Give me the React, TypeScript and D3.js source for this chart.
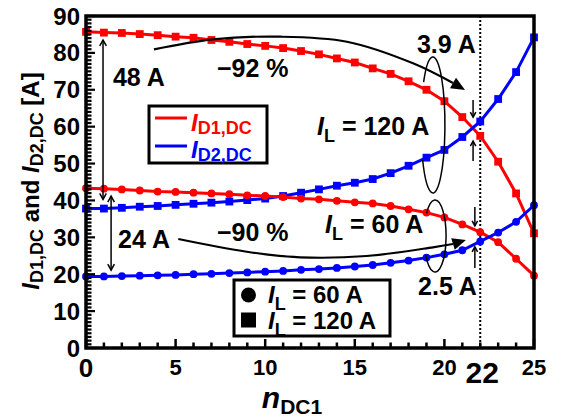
import React from 'react';
import * as d3 from 'd3';

// ---- data ----
const nDC1 = [0, 1, 2, 3, 4, 5, 6, 7, 8, 9, 10, 11, 12, 13, 14, 15, 16, 17, 18, 19, 20, 21, 22, 23, 24, 25];
const iD1_120 = [85.7, 85.5, 85.4, 85.1, 84.8, 84.4, 84.1, 83.5, 83.0, 82.4, 81.9, 81.3, 80.5, 79.6, 78.5, 77.4, 75.8, 74.3, 72.3, 70.0, 66.9, 62.6, 57.5, 50.5, 41.9, 31.1];
const iD2_120 = [37.8, 37.8, 38.0, 38.3, 38.5, 38.8, 39.1, 39.4, 39.7, 40.1, 40.5, 41.2, 42.1, 43.0, 44.0, 44.8, 45.8, 47.4, 49.4, 51.6, 53.7, 57.2, 61.4, 67.5, 74.8, 84.2];
const iD1_60 = [43.3, 43.2, 43.0, 42.7, 42.4, 42.3, 42.1, 41.9, 41.7, 41.4, 41.2, 40.9, 40.5, 40.3, 39.9, 39.5, 39.2, 38.5, 37.6, 36.7, 35.4, 33.5, 31.4, 28.7, 24.2, 19.6];
const iD2_60 = [19.4, 19.4, 19.5, 19.6, 19.7, 19.8, 20.0, 20.1, 20.3, 20.5, 20.7, 20.9, 21.2, 21.4, 21.7, 22.1, 22.5, 23.1, 23.7, 24.5, 25.4, 26.5, 28.9, 31.3, 34.2, 38.7];
const xTickLabels = [0, 5, 10, 15, 20, 25];
const yTickLabels = [0, 10, 20, 30, 40, 50, 60, 70, 80, 90];
const markedN = 22;

// annotation anchor points in data units [n, I]
const curve92 = [[3.79, 80.97], [7.09, 83.68], [10.83, 84.39], [14.56, 83.03], [18.25, 77.18], [20.48, 71.84]];
const tip92 = [21.15, 69.94];
const curve90 = [[5.15, 29.55], [8.97, 26.1], [11.94, 24.59], [15.66, 24.94], [19.36, 27.3], [20.48, 28.19]];
const tip90 = [21.2, 29.28];

const RED = '#ff0000';
const BLUE = '#0000ff';
const FONT = "'Liberation Sans', Arial, Helvetica, sans-serif";

function arrowHead(bx: number, by: number, tx: number, ty: number, hw: number) {
  const dx = tx - bx, dy = ty - by;
  const L = Math.hypot(dx, dy);
  const px = -dy / L, py = dx / L;
  return `M${tx},${ty}L${bx + px * hw},${by + py * hw}L${bx - px * hw},${by - py * hw}Z`;
}

function vHead(x: number, y: number, dir: number, s = 6) {
  // dir: +1 pointing down, -1 pointing up
  return `M${x - s * 0.55},${y - dir * s}L${x},${y}L${x + s * 0.55},${y - dir * s}`;
}

function ellipseArc(cx: number, cy: number, rx: number, ry: number, t0: number, t1: number) {
  const a0 = (t0 * Math.PI) / 180, a1 = (t1 * Math.PI) / 180;
  const x0 = cx + rx * Math.cos(a0), y0 = cy + ry * Math.sin(a0);
  const x1 = cx + rx * Math.cos(a1), y1 = cy + ry * Math.sin(a1);
  const large = t1 - t0 > 180 ? 1 : 0;
  return `M${x0},${y0}A${rx},${ry} 0 ${large} 1 ${x1},${y1}`;
}

export default function App() {
  const x = d3.scaleLinear().domain([0, 25]).range([86, 534]);
  const y = d3.scaleLinear().domain([0, 90]).range([348, 16]);
  const lineGen = d3.line<number>().x((_, i) => x(nDC1[i])).y((d) => y(d));
  const annLine = d3.line<number[]>().x((d) => x(d[0])).y((d) => y(d[1])).curve(d3.curveCatmullRom);

  const series = [
    { vals: iD1_120, color: RED, marker: 'square' },
    { vals: iD2_120, color: BLUE, marker: 'square' },
    { vals: iD1_60, color: RED, marker: 'circle' },
    { vals: iD2_60, color: BLUE, marker: 'circle' },
  ];

  const xMinor = x.ticks(25);
  const yMinor = y.ticks(90);

  const last92 = curve92[curve92.length - 1];
  const last90 = curve90[curve90.length - 1];

  const bold = { fontFamily: FONT, fontWeight: 700 } as const;

  return (
    <div style={{ position: 'absolute', left: 0, top: 0 }}>
      <svg width={561} height={417} style={{ display: 'block', background: '#fff' }}>
        {/* dotted marker at n=22 */}
        <line x1={x(markedN)} x2={x(markedN)} y1={y(90)} y2={y(0)} stroke="#000" strokeWidth={2} strokeDasharray="2,2" />

        {/* series */}
        {series.map((s, si) => (
          <g key={si}>
            <path d={lineGen(s.vals) || ''} fill="none" stroke={s.color} strokeWidth={3} />
            {s.vals.map((v, i) =>
              s.marker === 'square' ? (
                <rect key={i} x={x(nDC1[i]) - 3.9} y={y(v) - 3.9} width={7.8} height={7.8} fill={s.color} />
              ) : (
                <circle key={i} cx={x(nDC1[i])} cy={y(v)} r={3.9} fill={s.color} />
              )
            )}
          </g>
        ))}

        {/* axes frame and ticks */}
        {xMinor.map((t) => (
          <line key={'xt' + t} x1={x(t)} x2={x(t)} y1={y(0)} y2={y(0) - (t % 5 === 0 ? 9 : 5.5)} stroke="#000" strokeWidth={2.5} />
        ))}
        {yMinor.map((t) => (
          <line key={'yt' + t} x1={x(0)} x2={x(0) + (t % 10 === 0 ? 9 : 5.5)} y1={y(t)} y2={y(t)} stroke="#000" strokeWidth={2.2} />
        ))}
        <rect x={x(0)} y={y(90)} width={x(25) - x(0)} height={y(0) - y(90)} fill="none" stroke="#000" strokeWidth={3.5} />

        {/* tick labels */}
        {yTickLabels.map((t) => (
          <text key={'yl' + t} x={80} y={y(t) + 8.5} textAnchor="end" fontSize={24} {...bold}>{t}</text>
        ))}
        {xTickLabels.map((t) => (
          <text key={'xl' + t} x={x(t)} y={t === 0 ? 377 : 375} textAnchor="middle" fontSize={t === 0 ? 26 : 22} {...bold}>{t}</text>
        ))}
        <text x={x(markedN) + 2} y={383} textAnchor="middle" fontSize={30} {...bold}>{markedN}</text>

        {/* axis titles */}
        <text x={292} y={408} textAnchor="middle" {...bold}>
          <tspan fontSize={30} fontStyle="italic">n</tspan>
          <tspan fontSize={21} dy={6}>DC1</tspan>
        </text>
        <text transform="translate(39,181) rotate(-90)" textAnchor="middle" {...bold} fontSize={24}>
          <tspan fontStyle="italic">I</tspan>
          <tspan fontSize={18} dy={4}>D1,DC</tspan>
          <tspan dy={-4}> and </tspan>
          <tspan fontStyle="italic">I</tspan>
          <tspan fontSize={18} dy={4}>D2,DC</tspan>
          <tspan dy={-4}> [A]</tspan>
        </text>

        {/* double arrows */}
        <g stroke="#000" strokeWidth={1.5} fill="none">
          <line x1={x(0.95)} x2={x(0.95)} y1={y(83.5)} y2={y(40.3)} />
          <path d={vHead(x(0.95), y(83.5), -1)} />
          <path d={vHead(x(0.95), y(40.3), 1)} />
          <line x1={x(1.4)} x2={x(1.4)} y1={y(41.2)} y2={y(21.1)} />
          <path d={vHead(x(1.4), y(41.2), -1)} />
          <path d={vHead(x(1.4), y(21.1), 1)} />
          {/* small arrows at n=22 */}
          <line x1={x(21.6)} x2={x(21.6)} y1={y(67.2)} y2={y(62.6)} />
          <path d={vHead(x(21.6), y(62.6), 1, 5)} />
          <line x1={x(21.6)} x2={x(21.6)} y1={y(50.7)} y2={y(56.1)} />
          <path d={vHead(x(21.6), y(56.1), -1, 5)} />
          <line x1={x(21.7)} x2={x(21.7)} y1={y(38.2)} y2={y(33.1)} />
          <path d={vHead(x(21.7), y(33.1), 1, 5)} />
          <line x1={x(21.7)} x2={x(21.7)} y1={y(21.7)} y2={y(27.4)} />
          <path d={vHead(x(21.7), y(27.4), -1, 5)} />
          {/* loops */}
          <path d={ellipseArc(x(19.36), y(60.45), 12, 68, 219, 509)} />
          <path d={ellipseArc(x(19.48), y(30.36), 11, 36, 219, 509)} />
        </g>

        {/* curved arrows */}
        <path d={annLine(curve92) || ''} fill="none" stroke="#000" strokeWidth={2.2} />
        <path d={arrowHead(x(last92[0]), y(last92[1]), x(tip92[0]), y(tip92[1]), 6)} fill="#000" />
        <path d={annLine(curve90) || ''} fill="none" stroke="#000" strokeWidth={2.2} />
        <path d={arrowHead(x(last90[0]), y(last90[1]), x(tip90[0]), y(tip90[1]), 6)} fill="#000" />

        {/* annotation texts */}
        <g {...bold} fontSize={25}>
          <text x={x(1.5)} y={y(71.0)}>48 A</text>
          <text x={x(7.31)} y={y(73.4)}>−92 %</text>
          <text x={x(1.79)} y={y(27.2)}>24 A</text>
          <text x={x(7.31)} y={y(29.1)}>−90 %</text>
          <text x={x(18.47)} y={y(80.05)}>3.9 A</text>
          <text x={x(18.53)} y={y(14.37)}>2.5 A</text>
          <text x={x(12.89)} y={y(57.7)}>
            <tspan fontStyle="italic">I</tspan>
            <tspan fontSize={18} dy={7}>L</tspan>
            <tspan dy={-7}> = 120 A</tspan>
          </text>
          <text x={x(13.34)} y={y(31.17)}>
            <tspan fontStyle="italic">I</tspan>
            <tspan fontSize={18} dy={7}>L</tspan>
            <tspan dy={-7}> = 60 A</tspan>
          </text>
        </g>

        {/* legend: currents */}
        <rect x={149} y={106} width={118} height={57} fill="#fff" stroke="#000" strokeWidth={3} />
        <line x1={155} x2={187} y1={118} y2={118} stroke={RED} strokeWidth={3} />
        <line x1={155} x2={187} y1={146} y2={146} stroke={BLUE} strokeWidth={3} />
        <text x={191} y={131} fill={RED} {...bold} fontSize={24}>
          <tspan fontStyle="italic">I</tspan>
          <tspan fontSize={18} dy={3}>D1,DC</tspan>
        </text>
        <text x={191} y={158} fill={BLUE} {...bold} fontSize={24}>
          <tspan fontStyle="italic">I</tspan>
          <tspan fontSize={18} dy={3}>D2,DC</tspan>
        </text>

        {/* legend: load current */}
        <rect x={234} y={280} width={156} height={56} fill="#fff" stroke="#000" strokeWidth={3} />
        <circle cx={248.5} cy={295} r={7.5} fill="#000" />
        <rect x={241} y={312.5} width={15} height={15} fill="#000" />
        <text x={268} y={303} {...bold} fontSize={24}>
          <tspan fontStyle="italic">I</tspan>
          <tspan fontSize={18} dy={7}>L</tspan>
          <tspan dy={-7}> = 60 A</tspan>
        </text>
        <text x={268} y={329} {...bold} fontSize={24}>
          <tspan fontStyle="italic">I</tspan>
          <tspan fontSize={18} dy={7}>L</tspan>
          <tspan dy={-7}> = 120 A</tspan>
        </text>
      </svg>
    </div>
  );
}
